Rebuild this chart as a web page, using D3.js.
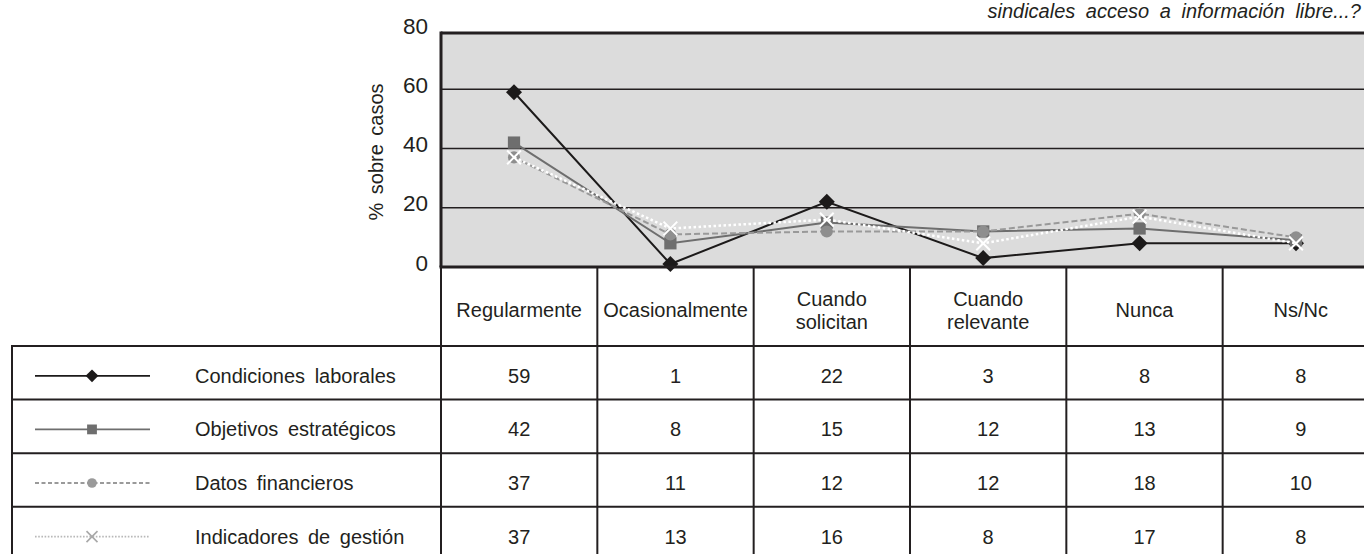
<!DOCTYPE html>
<html>
<head>
<meta charset="utf-8">
<script src="https://cdn.jsdelivr.net/npm/d3@7"></script>
<style>
  html, body { margin: 0; padding: 0; background: #fff; }
  svg { display: block; font-family: "Liberation Sans", Arial, sans-serif; }
</style>
</head>
<body>
<svg id="chart" width="1364" height="554"></svg>
<script>
// Categories (table header) and series values (%)
const categories = ["Regularmente", "Ocasionalmente", "Cuando solicitan", "Cuando relevante", "Nunca", "Ns/Nc"];
const headerLines = [["Regularmente"], ["Ocasionalmente"], ["Cuando", "solicitan"], ["Cuando", "relevante"], ["Nunca"], ["Ns/Nc"]];
const seriesNames = ["Condiciones laborales", "Objetivos estratégicos", "Datos financieros", "Indicadores de gestión"];
const condicionesLaborales = [59, 1, 22, 3, 8, 8];
const objetivosEstrategicos = [42, 8, 15, 12, 13, 9];
const datosFinancieros = [37, 11, 12, 12, 18, 10];
const indicadoresGestion = [37, 13, 16, 8, 17, 8];
const yTicks = [0, 20, 40, 60, 80];
const yLabel = "% sobre casos";
const title = "sindicales acceso a información libre...?";

const seriesValues = [condicionesLaborales, objetivosEstrategicos, datosFinancieros, indicadoresGestion];

// Visual style per series
const styles = [
  { stroke: "#1c1a1a", dash: null, width: 2, marker: "diamond", fill: "#1c1a1a", legStroke: "#1c1a1a", legFill: "#1c1a1a" },
  { stroke: "#6e6e6e", dash: null, width: 2, marker: "square", fill: "#6e6e6e", legStroke: "#6e6e6e", legFill: "#6e6e6e" },
  { stroke: "#999999", dash: "6,3", width: 2, marker: "circle", fill: "#8e8e8e", legStroke: "#9a9a9a", legFill: "#9a9a9a" },
  { stroke: "#ffffff", dash: "2.5,2.5", width: 2.5, marker: "cross", fill: "#ffffff", legStroke: "#b8b8b8", legFill: "#a8a8a8" }
];

const svg = d3.select("#chart");
const ink = "#231f20";
const fontSize = 20;

// Layout
const plotLeft = 441, plotRight = 1382, plotTop = 33, plotBottom = 267;
const tableLeft = 12;
const headerBottom = 346, rowH = 53.6;

const x = d3.scalePoint().domain(categories).range([514, 1296]);
const col = d3.scaleBand().domain(categories).range([plotLeft, 1379]);
const y = d3.scaleLinear().domain([0, 80]).range([plotBottom, 30]);

// Title (top right)
svg.append("text")
  .attr("x", 1361).attr("y", 18)
  .attr("text-anchor", "end")
  .attr("font-size", 20).attr("font-style", "italic")
  .attr("word-spacing", 5)
  .attr("fill", ink)
  .text(title);

// Plot background
svg.append("rect")
  .attr("x", plotLeft).attr("y", plotTop)
  .attr("width", plotRight - plotLeft).attr("height", plotBottom - plotTop)
  .attr("fill", "#dcdcdc");

// Gridlines
svg.append("g")
  .selectAll("line")
  .data(yTicks.filter(t => t > 0 && t < 80))
  .join("line")
  .attr("x1", plotLeft).attr("x2", plotRight)
  .attr("y1", d => y(d)).attr("y2", d => y(d))
  .attr("stroke", ink).attr("stroke-width", 1.5);

// Plot frame: top, left
svg.append("line").attr("x1", plotLeft).attr("x2", plotRight).attr("y1", plotTop).attr("y2", plotTop)
  .attr("stroke", ink).attr("stroke-width", 3);
svg.append("line").attr("x1", plotLeft).attr("x2", plotLeft).attr("y1", plotTop - 1.5).attr("y2", plotBottom)
  .attr("stroke", ink).attr("stroke-width", 3);

// Y axis labels
const yAxis = d3.axisLeft(y).tickValues(yTicks).tickSize(0).tickPadding(13);
const yg = svg.append("g").attr("transform", `translate(${plotLeft},0)`).call(yAxis);
yg.select(".domain").remove();
yg.selectAll("text")
  .attr("font-family", "'Liberation Sans', Arial, sans-serif")
  .attr("font-size", 22.5).attr("fill", ink)
  .attr("dy", "0.14em");

svg.append("text")
  .attr("transform", `translate(383,152) rotate(-90)`)
  .attr("text-anchor", "middle")
  .attr("font-size", 20).attr("word-spacing", 3)
  .attr("fill", ink)
  .text(yLabel);

// Marker shapes
const wideDiamond = {
  draw(ctx, size) {
    const r = Math.sqrt(size / 2);
    ctx.moveTo(0, -r); ctx.lineTo(r, 0); ctx.lineTo(0, r); ctx.lineTo(-r, 0); ctx.closePath();
  }
};
const symbolFor = {
  diamond: d3.symbol().type(wideDiamond).size(128),
  square: d3.symbol().type(d3.symbolSquare).size(150),
  circle: d3.symbol().type(d3.symbolCircle).size(115),
  cross: d3.symbol().type(d3.symbolX).size(125)
};

function drawMarker(g, st, fill, stroke, scaleSize) {
  const p = g.append("path").attr("d", symbolFor[st.marker]);
  if (st.marker === "cross") {
    p.attr("fill", "none").attr("stroke", stroke).attr("stroke-width", 2);
  } else {
    p.attr("fill", fill);
  }
  if (scaleSize) p.attr("transform", `scale(${scaleSize})`);
  return p;
}

// Series lines
const line = d3.line().x((d, i) => x(categories[i])).y(d => y(d));
const seriesG = svg.append("g");
seriesValues.forEach((vals, s) => {
  const st = styles[s];
  const g = seriesG.append("g");
  g.append("path")
    .datum(vals)
    .attr("d", line)
    .attr("fill", "none")
    .attr("stroke", st.stroke)
    .attr("stroke-width", st.width)
    .attr("stroke-dasharray", st.dash);
  vals.forEach((v, i) => {
    const mg = g.append("g").attr("transform", `translate(${x(categories[i])},${y(v)})`);
    drawMarker(mg, st, st.fill, st.fill);
  });
});

// Plot bottom border drawn over markers
svg.append("line").attr("x1", plotLeft - 1.5).attr("x2", plotRight).attr("y1", plotBottom).attr("y2", plotBottom)
  .attr("stroke", ink).attr("stroke-width", 3);

// Table grid
const tableG = svg.append("g");
const bottom = 560;
// Column dividers
const edges = categories.map(c => col(c)).concat([col(categories[categories.length - 1]) + col.bandwidth()]);
tableG.selectAll("line.v")
  .data(edges)
  .join("line")
  .attr("x1", d => d).attr("x2", d => d)
  .attr("y1", plotBottom).attr("y2", bottom)
  .attr("stroke", ink).attr("stroke-width", 2);
// Left edge of the legend column
tableG.append("line")
  .attr("x1", tableLeft).attr("x2", tableLeft)
  .attr("y1", headerBottom).attr("y2", bottom)
  .attr("stroke", ink).attr("stroke-width", 2);
// Row lines
const rowTops = seriesNames.map((_, i) => headerBottom + i * rowH);
tableG.selectAll("line.h")
  .data(rowTops)
  .join("line")
  .attr("x1", tableLeft - 1).attr("x2", 1370)
  .attr("y1", d => d).attr("y2", d => d)
  .attr("stroke", ink).attr("stroke-width", 2);

// Header labels
const headG = svg.append("g").attr("font-size", fontSize).attr("fill", ink).attr("text-anchor", "middle");
categories.forEach((c, i) => {
  const cx = col(c) + col.bandwidth() / 2;
  const linesTxt = headerLines[i];
  const cy = 310;
  linesTxt.forEach((t, k) => {
    headG.append("text")
      .attr("x", cx)
      .attr("y", cy + (k - (linesTxt.length - 1) / 2) * 23)
      .attr("dy", "0.35em")
      .text(t);
  });
});

// Legend column and values
seriesNames.forEach((name, s) => {
  const st = styles[s];
  const cy = rowTops[s] + rowH / 2 + 3;
  const lg = svg.append("g");
  lg.append("line")
    .attr("x1", 35).attr("x2", 150).attr("y1", cy).attr("y2", cy)
    .attr("stroke", st.legStroke)
    .attr("stroke-width", s === 3 ? 1.6 : 1.8)
    .attr("stroke-dasharray", s === 2 ? "4,2.5" : (s === 3 ? "1.6,1.6" : null));
  const mg = lg.append("g").attr("transform", `translate(92,${cy})`);
  drawMarker(mg, st, st.legFill, st.legFill, 0.8);

  lg.append("text")
    .attr("x", 195).attr("y", cy)
    .attr("dy", "0.35em")
    .attr("font-size", fontSize).attr("word-spacing", 4)
    .attr("fill", ink)
    .text(name);

  svg.append("g")
    .selectAll("text")
    .data(seriesValues[s])
    .join("text")
    .attr("x", (d, i) => col(categories[i]) + col.bandwidth() / 2)
    .attr("y", cy)
    .attr("dy", "0.35em")
    .attr("text-anchor", "middle")
    .attr("font-size", fontSize)
    .attr("fill", ink)
    .text(d => d);
});
</script>
</body>
</html>
